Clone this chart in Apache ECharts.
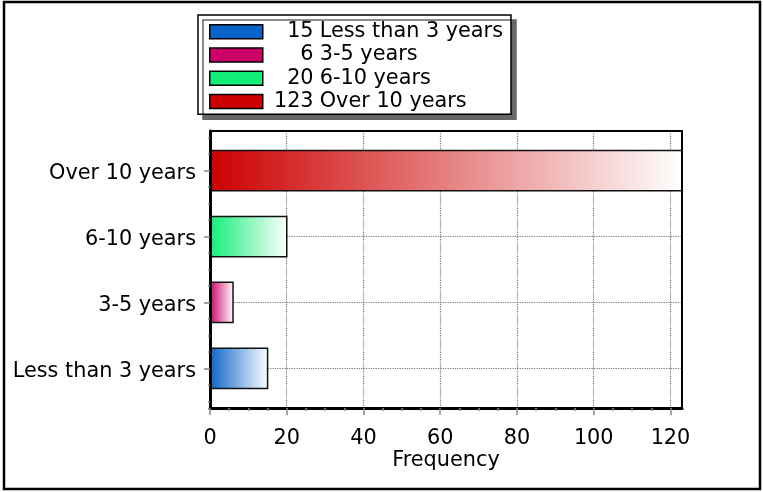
<!DOCTYPE html>
<html>
<head>
<meta charset="utf-8">
<script src="https://cdn.jsdelivr.net/npm/echarts@6/dist/echarts.min.js"></script>
<style>
html,body{margin:0;padding:0;background:#fff;}
#c{width:763px;height:492px;}
</style>
</head>
<body>
<div id="c"></div>
<script>
// ---- data ----
var categories = ['Less than 3 years', '3-5 years', '6-10 years', 'Over 10 years'];
var values = [15, 6, 20, 123];
var xTicks = [0, 20, 40, 60, 80, 100, 120];
var yTicks = [0, 1, 2, 3];

// ---- styles ----
var colors = ['#0a64c8', '#cc0066', '#11ee77', '#cc0000'];
var FONT = 'DejaVu Sans';
var FS = 20.8;
var HALF = 0.305;

var xMinor = [];
for (var i = 0; i < xTicks.length - 1; i++) {
  for (var k = 1; k < 4; k++) xMinor.push(xTicks[i] + (xTicks[i + 1] - xTicks[i]) * k / 4);
}
var yMinor = [];
for (var j = -1; j < yTicks.length; j++) {
  for (var m = 1; m < 4; m++) {
    var v = j + m / 4;
    if (v >= -0.55 && v <= 3.55) yMinor.push(v);
  }
}

var chart = echarts.init(document.getElementById('c'), null, {renderer: 'canvas'});

function renderBar(params, api) {
  var val = api.value(0), c = api.value(1);
  var p0 = api.coord([0, c + HALF]);
  var p1 = api.coord([val, c - HALF]);
  var col = colors[c];
  return {
    type: 'rect',
    shape: {x: p0[0], y: p0[1], width: p1[0] - p0[0], height: p1[1] - p0[1]},
    style: {
      fill: new echarts.graphic.LinearGradient(0, 0, 1, 0, [
        {offset: 0, color: col}, {offset: 1, color: '#ffffff'}
      ]),
      stroke: '#111',
      lineWidth: 1.5
    }
  };
}

var series = categories.map(function (name, i) {
  return {
    type: 'custom',
    name: name,
    xAxisIndex: 0,
    yAxisIndex: 0,
    clip: true,
    z: 2,
    itemStyle: {color: colors[i]},
    encode: {x: 0, y: 1},
    data: [[values[i], i]],
    renderItem: renderBar
  };
});

function padNum(n) {
  var s = String(n);
  while (s.length < 3) s = '\u2007' + s;
  return s;
}

var baseX = {type: 'value', min: 0, max: 123, position: 'bottom', gridIndex: 0};
var baseY = {type: 'value', min: -0.6, max: 3.6, position: 'left', gridIndex: 0};

var option = {
  animation: false,
  backgroundColor: '#fff',
  grid: {left: 210, right: 81, top: 131, bottom: 84, show: true, z: 10,
    backgroundColor: 'transparent', borderColor: '#000', borderWidth: 2},
  legend: {
    orient: 'vertical', left: 198, top: 15, padding: [5, 8, 1, 11], itemGap: 0,
    itemWidth: 53, itemHeight: 14, icon: 'rect', selectedMode: false,
    backgroundColor: '#fff', borderColor: '#000', borderWidth: 1.5,
    shadowColor: '#666', shadowOffsetX: 5, shadowOffsetY: 5, shadowBlur: 0,
    itemStyle: {borderColor: '#000', borderWidth: 1.5},
    textStyle: {fontFamily: FONT, fontSize: FS, color: '#000', lineHeight: 23.3,
      rich: {n: {width: 52, align: 'center', fontFamily: FONT, fontSize: FS, color: '#000', lineHeight: 23.3}}},
    formatter: function (name) {
      return '{n|' + padNum(values[categories.indexOf(name)]) + '}' + name;
    },
    data: categories
  },
  xAxis: [
    Object.assign({}, baseX, {
      z: 10,
      axisLine: {show: true, onZero: false, lineStyle: {color: '#000', width: 3}},
      axisTick: {show: true, customValues: xTicks, length: 7, lineStyle: {color: '#888', width: 1.5}},
      axisLabel: {customValues: xTicks, margin: 20, fontFamily: FONT, fontSize: FS, color: '#000'},
      splitLine: {show: false},
      name: 'Frequency', nameLocation: 'middle', nameGap: 42, nameMoveOverlap: false,
      nameTextStyle: {fontFamily: FONT, fontSize: FS, color: '#000'}
    }),
    Object.assign({}, baseX, {
      z: 10,
      axisLine: {show: false, onZero: false},
      axisTick: {show: true, customValues: xMinor, length: 3, lineStyle: {color: '#888', width: 1.5}},
      axisLabel: {show: false},
      splitLine: {show: false}
    }),
    Object.assign({}, baseX, {
      z: 0,
      axisLine: {show: false, onZero: false},
      axisTick: {show: false, customValues: xTicks},
      axisLabel: {show: false},
      splitLine: {show: true, lineStyle: {type: 'dotted', color: '#777', width: 1.2}}
    })
  ],
  yAxis: [
    Object.assign({}, baseY, {
      z: 10,
      axisLine: {show: true, onZero: false, lineStyle: {color: '#000', width: 3}},
      axisTick: {show: true, customValues: yTicks, length: 6, lineStyle: {color: '#888', width: 1.5}},
      axisLabel: {customValues: yTicks, margin: 14, fontFamily: FONT, fontSize: FS, color: '#000',
        verticalAlign: 'top', lineHeight: 6,
        formatter: function (v) { return categories[Math.round(v)]; }},
      splitLine: {show: false}
    }),
    Object.assign({}, baseY, {
      z: 10,
      axisLine: {show: false, onZero: false},
      axisTick: {show: true, customValues: yMinor, length: 2, lineStyle: {color: '#888', width: 1.5}},
      axisLabel: {show: false},
      splitLine: {show: false}
    }),
    Object.assign({}, baseY, {
      z: 0,
      axisLine: {show: false, onZero: false},
      axisTick: {show: false, customValues: yTicks},
      axisLabel: {show: false},
      splitLine: {show: true, lineStyle: {type: 'dotted', color: '#777', width: 1.2}}
    })
  ],
  graphic: [{
    type: 'rect', z: 100, silent: true,
    shape: {x: 4, y: 2, width: 756, height: 487},
    style: {fill: 'none', stroke: '#000', lineWidth: 2.5}
  }],
  series: series
};

chart.setOption(option);
</script>
</body>
</html>
